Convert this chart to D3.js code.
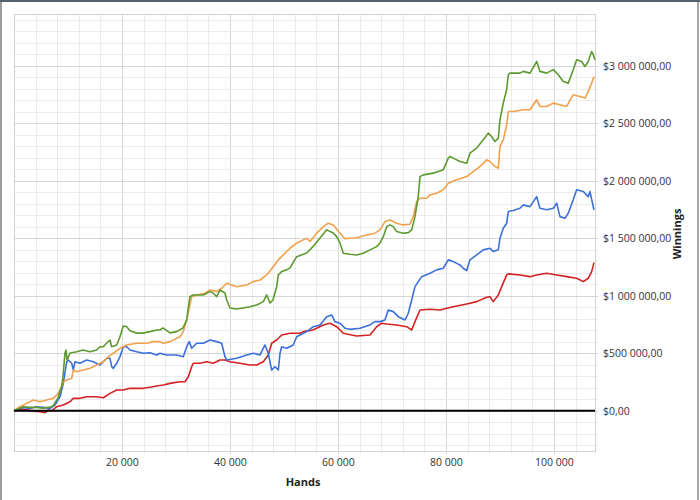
<!DOCTYPE html>
<html>
<head>
<meta charset="utf-8">
<script src="https://cdn.jsdelivr.net/npm/d3@7"></script>
<style>
  html, body { margin: 0; padding: 0; background: #ffffff; }
  svg { display: block; font-family: "Open Sans", "Segoe UI", sans-serif; }
</style>
</head>
<body>
<svg id="chart" width="700" height="500"></svg>
<script>
// ---- Data (hands in thousands, winnings in $ thousands) ----
const greenHands = [0,1.72,2.96,4.2,5.37,6.67,7.22,8.15,8.83,9.07,9.44,9.63,9.81,10.37,11.61,12.78,14.07,15.32,15.93,16.54,17.17,17.78,18.09,19.02,19.63,20.24,20.87,21.48,22.72,23.89,25.19,26.43,27.04,27.59,28.89,30.13,31.30,31.98,32.22,32.59,33.15,35.06,36.30,36.85,37.54,38.15,39.07,39.39,40.0,41.24,42.41,43.70,44.95,46.17,46.80,47.41,47.96,48.65,48.95,49.57,50.50,51.11,52.35,54.20,55.37,56.67,57.91,59.13,59.76,60.37,60.98,62.22,63.46,64.69,65.93,67.17,67.78,68.39,69.02,69.63,70.24,70.87,72.09,73.02,73.65,74.26,74.87,75.19,75.80,77.65,79.50,80.43,80.74,81.35,82.59,83.83,84.44,85.69,86.91,87.83,88.46,89.07,89.69,90.0,90.61,91.24,91.54,91.85,93.70,94.32,95.56,96.80,97.41,98.65,99.87,100.80,101.72,102.65,103.57,104.20,105.13,105.74,106.35,106.98,107.28,107.59];
const greenWin = [0,35,29,29,23,32,41,111,209,293,502,528,441,502,513,528,513,528,557,557,589,615,557,572,644,737,731,696,675,675,688,702,702,720,677,688,720,789,876,992,1007,1007,1036,1024,992,1050,1024,963,894,885,894,905,920,949,1007,937,963,1079,1181,1210,1225,1242,1340,1372,1427,1503,1573,1546,1514,1459,1370,1361,1355,1370,1399,1427,1459,1514,1601,1616,1601,1558,1544,1549,1573,1688,1862,2036,2051,2066,2095,2197,2211,2197,2167,2153,2240,2284,2356,2414,2385,2341,2371,2530,2675,2791,2922,2936,2936,2951,2936,3037,2951,2936,2966,2922,2863,2849,2966,3052,3037,2994,3037,3124,3096,3052];

const orangeHands = [0,1.1,2.35,3.57,4.81,6.06,7.28,8.20,9.13,9.76,10.69,10.98,11.61,12.83,14.07,15.32,16.54,17.46,18.39,19.63,20.87,22.72,24.57,25.80,27.04,27.65,28.89,30.74,31.35,31.98,32.91,33.83,35.37,36.30,37.54,38.46,39.39,41.24,43.09,44.32,45.56,46.80,48.02,48.95,49.87,51.11,52.35,53.57,54.20,54.82,56.06,57.28,58.20,59.13,60.37,61.30,63.46,65.31,66.85,67.78,68.70,69.63,70.87,72.09,73.33,73.94,74.57,75.19,76.43,77.04,78.28,79.50,80.43,81.98,83.83,85.06,86.30,87.54,88.15,89.07,89.69,90.0,90.61,91.24,91.54,92.46,94.32,95.56,96.80,97.41,98.65,99.87,101.11,102.35,103.57,104.82,105.74,106.35,106.98,107.41];
const orangeWin = [0,35,64,93,78,93,108,151,252,267,282,354,339,354,369,398,426,470,500,543,572,587,587,601,601,587,601,644,688,789,992,1007,1022,1050,1036,1065,1109,1079,1094,1123,1137,1181,1253,1312,1355,1413,1457,1486,1500,1472,1544,1601,1631,1616,1544,1495,1505,1529,1544,1573,1645,1659,1631,1616,1622,1688,1817,1848,1848,1877,1892,1921,1979,2008,2036,2080,2124,2182,2167,2124,2110,2299,2356,2487,2602,2602,2617,2617,2704,2646,2646,2675,2660,2646,2748,2733,2719,2777,2849,2907];

const blueHands = [0,1.72,2.96,4.2,5.43,6.67,7.59,8.52,9.13,9.76,10.06,10.69,10.98,11.30,12.22,13.46,14.69,15.93,17.17,17.78,18.09,18.39,19.02,19.63,20.24,20.87,21.48,22.72,23.94,25.19,26.43,27.04,28.28,30.13,31.35,31.98,32.46,32.91,33.83,35.06,36.30,37.54,38.46,39.07,39.39,41.24,43.09,44.32,45.56,46.48,47.09,47.72,48.33,48.95,49.26,49.57,50.50,51.72,52.35,52.96,54.20,55.43,56.67,57.91,58.83,59.44,60.37,61.30,62.22,64.07,65.93,66.85,67.78,68.70,69.31,70.24,71.17,72.41,73.02,73.65,74.26,74.87,75.50,77.04,78.28,79.50,80.43,81.35,82.59,83.20,83.83,84.44,85.69,86.91,88.15,88.76,89.69,90.0,90.61,91.24,91.54,92.46,93.70,94.32,95.56,96.80,97.41,98.65,99.87,100.50,101.11,102.04,102.65,103.57,104.20,105.43,106.35,106.67,107.28,107.41];
const blueWin = [0,29,20,35,29,20,50,122,238,426,441,413,354,426,413,441,426,398,456,456,383,369,413,470,557,557,528,513,500,505,485,500,485,485,470,557,601,543,587,587,615,601,587,470,441,456,485,500,485,572,500,354,383,354,500,557,543,572,644,659,688,731,746,818,833,775,761,717,708,717,746,775,775,789,876,862,818,789,848,963,1079,1123,1166,1196,1225,1239,1312,1297,1268,1239,1218,1312,1355,1399,1413,1384,1399,1500,1587,1631,1732,1741,1761,1790,1775,1862,1761,1747,1761,1805,1688,1674,1718,1834,1921,1906,1862,1906,1775,1747];

const redHands = [0,1.72,3.57,4.81,5.74,6.35,6.98,7.91,9.13,10.37,10.98,12.22,13.46,15.32,16.54,17.78,19.02,20.24,21.48,23.94,25.19,26.43,27.65,28.89,30.74,31.67,32.28,32.91,33.20,34.44,35.68,36.91,38.15,39.07,40.0,41.85,43.70,44.95,46.17,47.09,47.72,48.65,49.57,51.11,52.96,53.57,55.37,57.28,58.52,59.76,60.98,63.46,65.93,67.17,68.09,69.02,70.87,72.72,73.65,74.26,75.19,77.04,78.89,80.13,81.35,83.83,85.69,87.54,88.15,88.76,89.69,90.32,91.24,91.54,93.70,95.56,96.80,98.65,100.50,102.35,104.20,105.43,106.35,106.98,107.41];
const redWin = [0,12,-3,-9,-17,6,0,35,50,78,108,108,122,122,113,151,180,180,195,195,204,215,224,238,252,252,296,383,413,413,426,413,441,441,426,413,398,398,426,485,587,615,659,674,674,688,702,746,761,731,674,650,659,731,761,755,746,731,702,775,876,882,876,891,905,929,949,987,992,949,1007,1079,1181,1190,1181,1166,1181,1196,1181,1166,1152,1123,1152,1210,1288];

const xTicks = [20000, 40000, 60000, 80000, 100000];
const yTicks = [0, 500000, 1000000, 1500000, 2000000, 2500000, 3000000];
const xTitle = "Hands";
const yTitle = "Winnings";

const series = [
  { name: "Red",    hands: redHands,    win: redWin,    color: "#d42121" },
  { name: "Blue",   hands: blueHands,   win: blueWin,   color: "#3b6fdc" },
  { name: "Orange", hands: orangeHands, win: orangeWin, color: "#f2a04c" },
  { name: "Green",  hands: greenHands,  win: greenWin,  color: "#5c9a30" }
];

// ---- Layout ----
const svg = d3.select("#chart");
const plot = { left: 14, top: 14, right: 595, bottom: 451 };

const x = d3.scaleLinear().domain([0, 107600]).range([plot.left, plot.right]);
const y = d3.scaleLinear().domain([-350000, 3450000]).range([plot.bottom, plot.top]);

// window frame
svg.append("rect").attr("x", 0).attr("y", 0).attr("width", 700).attr("height", 500).attr("fill", "#ffffff");
svg.append("line").attr("x1", 1).attr("x2", 1).attr("y1", 0).attr("y2", 500).attr("stroke", "#9c9c9c").attr("stroke-width", 2);
svg.append("line").attr("x1", 698).attr("x2", 698).attr("y1", 0).attr("y2", 500).attr("stroke", "#a8a8a8").attr("stroke-width", 2);
svg.append("line").attr("x1", 0).attr("x2", 700).attr("y1", 1).attr("y2", 1).attr("stroke", "#55616d").attr("stroke-width", 2);

// gridlines
const g = svg.append("g");
const xMinor = d3.range(4000, 107600, 4000);
const yMinor = d3.range(-300000, 3450001, 100000);

g.selectAll(".vx").data(xMinor).join("line")
  .attr("x1", d => Math.round(x(d)) + 0.5).attr("x2", d => Math.round(x(d)) + 0.5)
  .attr("y1", plot.top).attr("y2", plot.bottom + 3)
  .attr("stroke", d => d % 20000 === 0 ? "#d6d6d6" : "#ebebeb").attr("stroke-width", 1);

g.selectAll(".hy").data(yMinor).join("line")
  .attr("x1", plot.left).attr("x2", plot.right + 3)
  .attr("y1", d => Math.round(y(d)) + 0.5).attr("y2", d => Math.round(y(d)) + 0.5)
  .attr("stroke", d => d % 500000 === 0 ? "#d6d6d6" : "#ebebeb").attr("stroke-width", 1);

g.append("rect").attr("x", plot.left + 0.5).attr("y", plot.top + 0.5)
  .attr("width", plot.right - plot.left).attr("height", plot.bottom - plot.top)
  .attr("fill", "none").attr("stroke", "#d2d2d2");

// axes
const fmtMoney = v => "$" + d3.format(",")(v).replace(/,/g, " ") + ",00";
const fmtHands = v => d3.format(",")(v).replace(/,/g, " ");

const xAxis = d3.axisBottom(x).tickValues(xTicks).tickFormat(fmtHands).tickSize(0).tickPadding(0);
const xg = svg.append("g").attr("transform", `translate(0,${plot.bottom + 8})`).call(xAxis);
xg.select(".domain").remove();
xg.selectAll("text").attr("font-size", 10.5).attr("fill", "#333").attr("font-family", "Open Sans");

const yAxis = d3.axisRight(y).tickValues(yTicks).tickFormat(fmtMoney).tickSize(0).tickPadding(0);
const yg = svg.append("g").attr("transform", `translate(${plot.right + 8},0)`).call(yAxis);
yg.select(".domain").remove();
yg.selectAll("text").attr("font-size", 10.5).attr("fill", "#333").attr("font-family", "Open Sans");

// titles
svg.append("text").attr("x", 303).attr("y", 486).attr("text-anchor", "middle")
  .attr("font-size", 11).attr("font-weight", "bold").attr("fill", "#222").text(xTitle);
svg.append("text").attr("transform", "translate(681,234) rotate(-90)").attr("text-anchor", "middle")
  .attr("font-size", 11).attr("font-weight", "bold").attr("fill", "#222").text(yTitle);

// series
const line = d3.line().x(d => x(d[0] * 1000)).y(d => y(d[1] * 1000));
series.forEach(s => {
  const pts = s.hands.map((h, i) => [h, s.win[i]]);
  svg.append("path").datum(pts).attr("d", line)
    .attr("fill", "none").attr("stroke", s.color).attr("stroke-width", 1.6)
    .attr("stroke-linejoin", "round");
});

// zero line
svg.append("line").attr("x1", x(0)).attr("x2", plot.right).attr("y1", y(0)).attr("y2", y(0))
  .attr("stroke", "#000").attr("stroke-width", 2);
</script>
</body>
</html>
